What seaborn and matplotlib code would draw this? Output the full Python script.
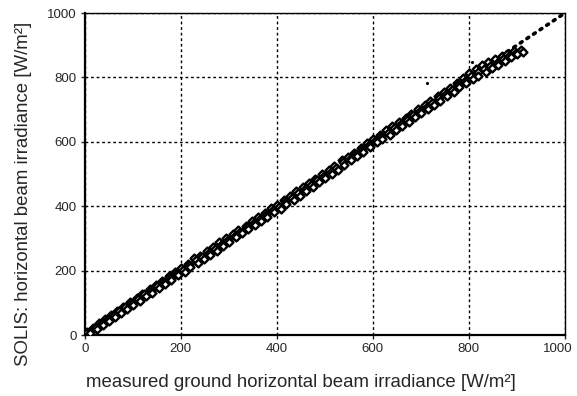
import matplotlib
matplotlib.use('Agg')
import matplotlib.pyplot as plt
import matplotlib.transforms as mtransforms
import seaborn as sns
import pandas as pd

# upper edge of the scatter band (measured, SOLIS)
meas_a = [5, 18, 30, 42, 55, 68, 80, 95, 108, 120, 135, 148, 160, 175, 188, 200, 215, 228, 240, 255,
          268, 280, 295, 308, 320, 335, 348, 360, 375, 388, 400, 415, 428, 440, 455, 468, 480, 495, 508, 520,
          535, 548, 560, 575, 588, 600, 615, 628, 640, 655, 668, 680, 695, 708, 720, 735, 748, 760, 775, 788,
          800, 815, 828, 840, 855, 868, 880, 895, 908]
solis_a = [8, 22, 36, 49, 62, 76, 88, 102, 116, 128, 142, 155, 168, 182, 196, 208, 222, 238, 246, 260,
           274, 288, 300, 314, 326, 340, 354, 366, 380, 393, 404, 420, 432, 446, 460, 472, 486, 500, 512, 526,
           544, 552, 566, 580, 596, 608, 620, 636, 648, 662, 674, 688, 702, 714, 728, 742, 756, 768, 784, 798,
           814, 826, 838, 848, 858, 866, 874, 882, 886]

# middle of the band
meas_m = [12, 24, 36, 48, 60, 72, 84, 98, 110, 124, 138, 150, 164, 178, 190, 204, 218, 232, 244, 258,
          272, 284, 298, 312, 324, 338, 352, 364, 378, 392, 404, 418, 432, 444, 458, 472, 484, 498, 512, 524,
          538, 552, 564, 578, 592, 604, 618, 632, 644, 658, 672, 684, 698, 712, 724, 738, 752, 764, 778, 792,
          804, 818, 832, 844, 858, 872, 884, 898]
solis_m = [12, 25, 37, 50, 62, 74, 86, 100, 112, 126, 138, 151, 164, 178, 190, 202, 216, 232, 241, 254,
           268, 280, 294, 308, 320, 334, 348, 360, 374, 387, 398, 414, 426, 440, 454, 466, 480, 494, 507, 518,
           536, 548, 562, 575, 590, 602, 614, 628, 642, 656, 668, 682, 696, 708, 720, 735, 748, 762, 776, 790,
           804, 816, 826, 836, 846, 858, 866, 876]

# lower edge of the scatter band
meas_b = [10, 25, 38, 50, 62, 75, 88, 100, 115, 128, 140, 155, 168, 180, 195, 208, 220, 235, 248, 260,
          275, 288, 300, 315, 328, 340, 355, 368, 380, 395, 408, 420, 435, 448, 460, 475, 488, 500, 515, 528,
          540, 555, 568, 580, 595, 608, 620, 635, 648, 660, 675, 688, 700, 715, 728, 740, 755, 768, 780, 795,
          808, 820, 835, 848, 860, 875, 888, 900, 912]
solis_b = [6, 20, 32, 44, 56, 68, 80, 93, 106, 120, 132, 146, 158, 171, 186, 196, 210, 224, 236, 250,
           262, 276, 290, 303, 316, 330, 342, 355, 368, 382, 392, 406, 420, 432, 446, 460, 474, 488, 501, 512,
           528, 544, 556, 570, 584, 598, 608, 622, 636, 650, 662, 676, 690, 702, 714, 728, 742, 756, 770, 784,
           796, 806, 818, 828, 840, 852, 862, 872, 880]

# stray points
meas_out = [712, 806]
solis_out = [783, 848]

# 1:1 reference
ref_x = [0, 1000]
ref_y = [0, 1000]

ticks = [0, 200, 400, 600, 800, 1000]

df = pd.DataFrame({
    "measured": meas_a + meas_m + meas_b,
    "solis": solis_a + solis_m + solis_b,
})

sns.set_style("white")
plt.rcParams['font.family'] = ['Liberation Sans', 'DejaVu Sans']

fig = plt.figure(figsize=(5.77, 3.96), dpi=100)
ax = fig.add_axes([0.147, 0.154, 0.832, 0.813])

sns.lineplot(x=ref_x, y=ref_y, ax=ax, color='black', linewidth=2.6,
             linestyle=(0, (0.6, 1.6)), dash_capstyle='round', zorder=2)
sns.scatterplot(data=df, x="measured", y="solis", ax=ax, marker='D', s=16,
                facecolor='white', edgecolor='black', linewidth=1.7, zorder=3)
sns.scatterplot(x=meas_out, y=solis_out, ax=ax, marker='o', s=5,
                color='black', linewidth=0, zorder=3)

ax.set_xlim(0, 1000)
ax.set_ylim(0, 1000)
ax.set_xticks(ticks)
ax.set_yticks(ticks)
ax.grid(True, color='black', linestyle=(0, (2, 2)), linewidth=1.0)
ax.set_axisbelow(True)
ax.tick_params(direction='out', length=3, width=1, labelsize=9.5, pad=3,
               bottom=True, left=True)
for side in ['left', 'bottom']:
    ax.spines[side].set_linewidth(1.6)
    ax.spines[side].set_color('black')
for side in ['top', 'right']:
    ax.spines[side].set_linewidth(1.0)
    ax.spines[side].set_color('black')

# nudge the last x tick label so it stays inside the figure
last = ax.get_xticklabels()[-1]
last.set_transform(last.get_transform() + mtransforms.ScaledTranslation(-5 / 72, 0, fig.dpi_scale_trans))

ax.set_xlabel("measured ground horizontal beam irradiance [W/m²]", fontsize=13.4)
ax.set_ylabel("SOLIS: horizontal beam irradiance [W/m²]", fontsize=13.4)
ax.xaxis.set_label_coords(0.45, -0.12)
ax.yaxis.set_label_coords(-0.11, 0.438)

plt.savefig("out.png", dpi=100)
plt.close()
